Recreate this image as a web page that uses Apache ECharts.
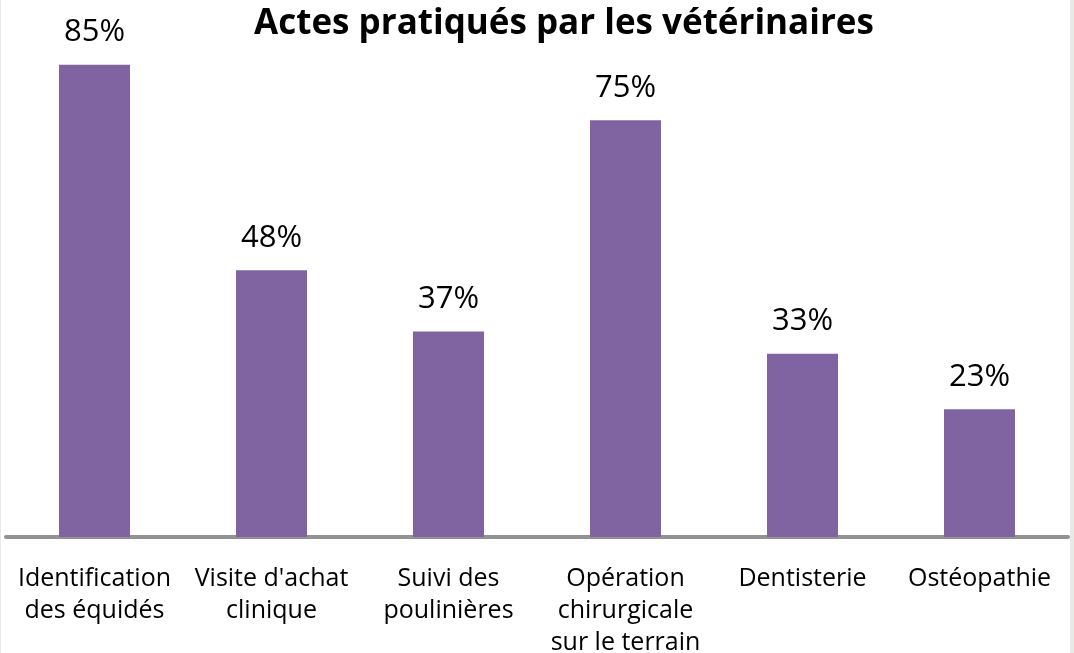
<!DOCTYPE html>
<html>
<head>
<meta charset="utf-8">
<script src="https://cdn.jsdelivr.net/npm/echarts@6/dist/echarts.min.js"></script>
<style>
  html, body { margin: 0; padding: 0; background: #e9e9e5; }
  #chart { position: absolute; left: 1px; top: 0; width: 1069px; height: 653px; background: #fff; }
</style>
</head>
<body>
<div id="chart"></div>
<script>
const categories = [
  'Identification\ndes équidés',
  "Visite d'achat\nclinique",
  'Suivi des\npoulinières',
  'Opération\nchirurgicale\nsur le terrain',
  'Dentisterie',
  'Ostéopathie'
]
const values = [85, 48, 37, 75, 33, 23]

const chart = echarts.init(document.getElementById('chart'))

let option = {
  animation: false,
  title: {
    text: 'Actes pratiqués par les vétérinaires',
    left: 558,
    top: 2,
    textAlign: 'center',
    textStyle: {
      fontFamily: 'Open Sans',
      fontWeight: 'bold',
      fontSize: 35,
      color: '#000'
    }
  },
  grid: {
    top: 37,
    left: 5,
    right: 2,
    bottom: 116,
    outerBoundsMode: 'none'
  },
  xAxis: {
    type: 'category',
    data: categories,
    axisTick: { show: false },
    axisLine: {
      lineStyle: { color: '#929292', width: 4 }
    },
    axisLabel: {
      interval: 0,
      margin: 26,
      fontFamily: 'Open Sans',
      fontSize: 25,
      lineHeight: 32,
      color: '#000'
    }
  },
  yAxis: {
    type: 'value',
    min: 0,
    max: 90,
    show: false
  },
  series: [
    {
      type: 'bar',
      data: values,
      barWidth: 71,
      itemStyle: { color: '#8064a2' },
      label: {
        show: true,
        position: 'top',
        distance: 17,
        formatter: '{c}%',
        fontFamily: 'Open Sans',
        fontSize: 31,
        color: '#000'
      }
    }
  ]
}
chart.setOption(option)
</script>
</body>
</html>
